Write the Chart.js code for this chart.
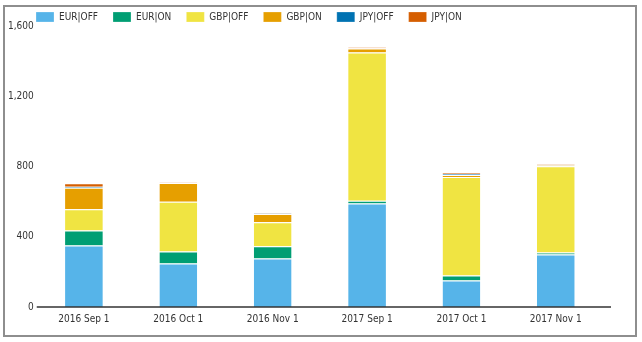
<!DOCTYPE html>
<html>
<head>
<meta charset="utf-8">
<script src="https://cdn.jsdelivr.net/npm/chart.js@4/dist/chart.umd.min.js"></script>
<style>
  body { margin: 0; background: #fff; }
  #wrap {
    position: absolute; left: 3px; top: 5px;
    width: 630px; height: 328px;
    border: 2px solid #8e8e8e;
  }
</style>
</head>
<body>
<div id="wrap"><canvas id="chart" width="630" height="328"></canvas></div>
<script>
const months = ['2016 Sep 1', '2016 Oct 1', '2016 Nov 1', '2017 Sep 1', '2017 Oct 1', '2017 Nov 1'];

const eurOff = [351, 248, 277, 591, 151, 300];
const eurOn  = [86, 69, 69, 15, 29, 11];
const gbpOff = [121, 283, 137, 846, 561, 492];
const gbpOn  = [122, 107, 48, 22, 12, 6];
const jpyOff = [6, 2, 2, 2, 7, 3];
const jpyOn  = [20, 3, 3, 5, 8, 3];

const FONT = "'DejaVu Sans Condensed', 'DejaVu Sans', sans-serif";
const TEXT = '#333';

function series(label, data, color) {
  return {
    label: label,
    data: data,
    backgroundColor: color,
    borderColor: '#fff',
    borderWidth: { top: 1, right: 0, bottom: 0, left: 0 },
    barPercentage: 0.4,
    categoryPercentage: 1
  };
}

// legend sits tight on top, shifted in to line up with the plot
const legendTweak = {
  id: 'legendTweak',
  beforeInit(chart) {
    const fit = chart.legend.fit;
    chart.legend.fit = function () {
      fit.bind(chart.legend)();
      this.height = 19.5;
    };
  },
  afterLayout(chart) {
    const lg = chart.legend;
    lg.top = -10;
    lg.bottom = 24;
    lg.left = 16;
  }
};

// baseline under the bars, running a little past the last category
const baseline = {
  id: 'baseline',
  afterDatasetsDraw(chart) {
    const { ctx, chartArea, scales } = chart;
    const y = scales.y.getPixelForValue(0);
    ctx.save();
    ctx.strokeStyle = '#333';
    ctx.lineWidth = 1.6;
    ctx.beginPath();
    ctx.moveTo(chartArea.left, y);
    ctx.lineTo(chartArea.right + 8, y);
    ctx.stroke();
    ctx.restore();
  }
};

new Chart(document.getElementById('chart'), {
  type: 'bar',
  data: {
    labels: months,
    datasets: [
      series('EUR|OFF', eurOff, '#56B4E9'),
      series('EUR|ON', eurOn, '#009E73'),
      series('GBP|OFF', gbpOff, '#F0E442'),
      series('GBP|ON', gbpOn, '#E69F00'),
      series('JPY|OFF', jpyOff, '#0072B2'),
      series('JPY|ON', jpyOn, '#D55E00')
    ]
  },
  options: {
    responsive: false,
    animation: false,
    layout: { padding: { left: 0, right: 32, top: 0, bottom: 4 } },
    plugins: {
      legend: {
        position: 'top',
        align: 'start',
        labels: {
          boxWidth: 18,
          boxHeight: 10,
          padding: 15,
          color: TEXT,
          font: { family: FONT, size: 10 }
        }
      },
      tooltip: { enabled: false }
    },
    scales: {
      x: {
        stacked: true,
        grid: { display: false, drawTicks: false },
        border: { display: false },
        ticks: { color: TEXT, padding: 6, font: { family: FONT, size: 10 } }
      },
      y: {
        stacked: true,
        min: 0,
        max: 1600,
        grid: { display: false, drawTicks: false },
        border: { display: false },
        ticks: {
          stepSize: 400,
          padding: 3,
          color: TEXT,
          font: { family: FONT, size: 10 },
          callback: v => v.toLocaleString('en-US')
        }
      }
    }
  },
  plugins: [legendTweak, baseline]
});
</script>
</body>
</html>
